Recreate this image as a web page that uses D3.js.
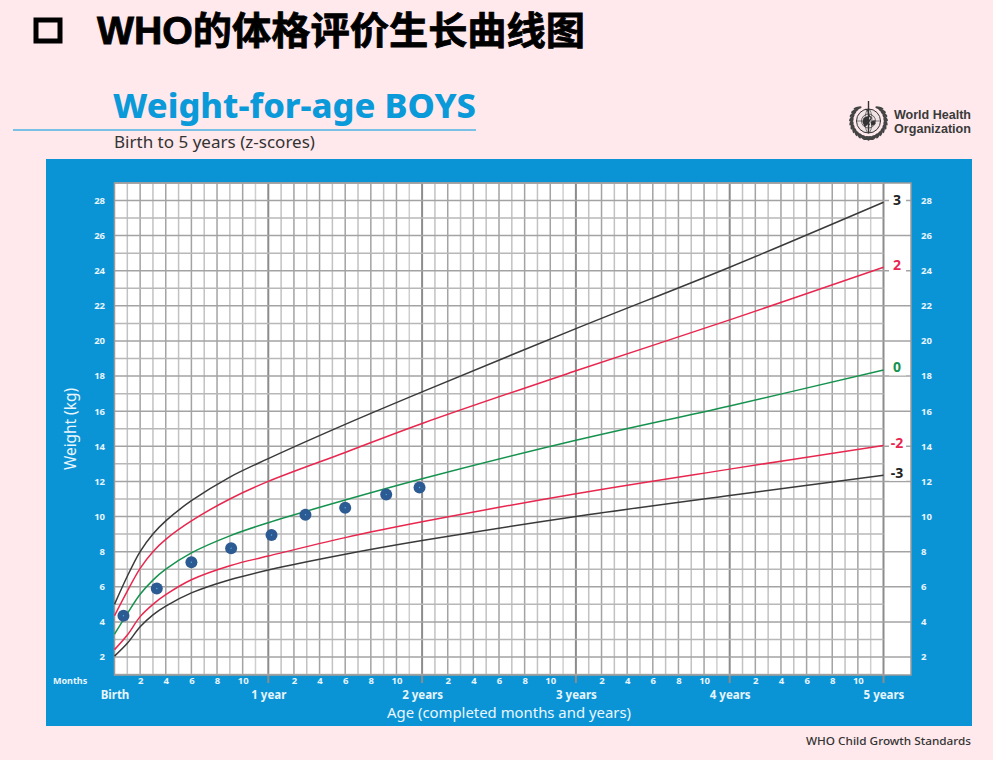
<!DOCTYPE html>
<html><head><meta charset="utf-8">
<script src="https://cdn.jsdelivr.net/npm/d3@7"></script>
<style>
html,body{margin:0;padding:0;background:#ffe9ec;}
svg{display:block;}
text{font-family:"Noto Sans","Open Sans",sans-serif;}
</style></head><body><svg id="c" width="993" height="760"></svg>
<script>
const months=[0,1,2,3,4,6,9,12,18,24,36,48,60];
const zNeg3=[2.05,2.78,3.72,4.4,4.9,5.65,6.4,6.95,7.85,8.63,10.0,11.2,12.35];
const zNeg2=[2.42,3.25,4.3,5.0,5.55,6.4,7.2,7.75,8.8,9.7,11.3,12.7,14.05];
const z0=[3.3,4.47,5.57,6.38,7.0,7.93,8.9,9.65,10.94,12.15,14.34,16.3,18.35];
const zPos2=[4.35,5.75,7.05,8.0,8.7,9.75,11.0,12.0,13.65,15.3,18.3,21.2,24.2];
const zPos3=[5.0,6.6,8.0,9.0,9.75,10.9,12.25,13.3,15.25,17.1,20.7,24.2,27.9];
const zLabels=["-3","-2","0","2","3"];
const zColors=["#3a3a3a","#e8274f","#16924f","#e8274f","#3a3a3a"];
const ptMonths=[0.7,3.3,6,9.1,12.25,14.9,18,21.2,23.8];
const ptWeights=[4.35,5.9,7.4,8.2,8.95,10.1,10.5,11.25,11.65];
const yTicks=[2,4,6,8,10,12,14,16,18,20,22,24,26,28];
const yearLabels=["Birth","1 year","2 years","3 years","4 years","5 years"];
const monthLabelVals=[2,4,6,8,10];

const svg=d3.select("#c");
const X0=114.5,X60=883.5,XR=911,Y2=657,Y28=200.5,YT=183,YB=675;
const x=d3.scaleLinear().domain([0,60]).range([X0,X60]);
const y=d3.scaleLinear().domain([2,28]).range([Y2,Y28]);

// Slide title
svg.append("rect").attr("x",36).attr("y",20).attr("width",24).attr("height",21).attr("fill","none").attr("stroke","#000").attr("stroke-width",5);
svg.append("text").attr("x",97).attr("y",44).attr("font-size",38).attr("font-weight",700).attr("fill","#000").attr("stroke","#000").attr("stroke-width",.8)
  .style("font-family",'"Liberation Sans","Noto Sans CJK SC",sans-serif').attr("textLength",488).attr("lengthAdjust","spacingAndGlyphs").text("WHO的体格评价生长曲线图");

// Header
svg.append("text").attr("x",113).attr("y",118).attr("font-size",34).attr("font-weight",800).attr("fill","#0a9ad9")
  .attr("textLength",363).attr("lengthAdjust","spacingAndGlyphs").text("Weight-for-age BOYS");
svg.append("line").attr("x1",13).attr("x2",476).attr("y1",130).attr("y2",130).attr("stroke","#4fb3e3").attr("stroke-width",1.6);
svg.append("text").attr("x",114).attr("y",148).attr("font-size",16).attr("fill","#333")
  .attr("textLength",201).attr("lengthAdjust","spacingAndGlyphs").text("Birth to 5 years (z-scores)");

// WHO logo
const logo=svg.append("g").attr("transform","translate(868.5,121)").attr("fill","none").attr("stroke","#333");
logo.append("circle").attr("r",12).attr("stroke-width",1).attr("fill","#efe3e5");
logo.append("circle").attr("r",7).attr("stroke-width",.7);
logo.append("ellipse").attr("rx",3.5).attr("ry",12).attr("stroke-width",.6);
logo.append("line").attr("x1",-12).attr("x2",12).attr("stroke-width",.6);
logo.append("path").attr("d","M-5,-3 L-1,-5 L1,-1 L-1,4 L-4,6 L-6,1Z M2,1 L6,-1 L7,3 L3,5Z").attr("fill","#333").attr("stroke","none");
logo.append("line").attr("y1",-20).attr("y2",12).attr("stroke-width",1.4);
logo.append("path").attr("d","M-3,-12 C3,-10 -3,-7 2,-4 C5,-2 -3,0 1,4").attr("stroke-width",1.3);
[-1,1].forEach(s=>d3.range(-50,100,13).forEach(a=>{
  const r=a*Math.PI/180;
  logo.append("ellipse").attr("rx",4.2).attr("ry",1.3).attr("fill","#444").attr("stroke","none")
    .attr("transform",`translate(${s*17*Math.cos(r)},${17*Math.sin(r)}) rotate(${s*(a+65)})`);
}));
const logoFont='"Liberation Sans Narrow","Liberation Sans",sans-serif';
svg.append("text").attr("x",894).attr("y",119).attr("font-size",12).attr("font-weight",700).attr("fill","#3a3a3a").style("font-family",logoFont)
  .attr("textLength",77).attr("lengthAdjust","spacingAndGlyphs").text("World Health");
svg.append("text").attr("x",894).attr("y",133).attr("font-size",12).attr("font-weight",700).attr("fill","#3a3a3a").style("font-family",logoFont)
  .attr("textLength",77).attr("lengthAdjust","spacingAndGlyphs").text("Organization");

// Blue panel
svg.append("rect").attr("x",46).attr("y",159).attr("width",926).attr("height",567).attr("fill","#0a94d6");
svg.append("rect").attr("x",X0).attr("y",YT).attr("width",XR-X0).attr("height",YB-YT).attr("fill","#fff");

// Grid
const vg=svg.append("g");
d3.range(1,61).forEach(m=>{
  const yr=m%12===0, even=m%2===0;
  vg.append("line").attr("x1",x(m)).attr("x2",x(m)).attr("y1",YT).attr("y2",yr?683:YB)
    .attr("stroke",yr?"#8c8c8c":even?"#a3a3a3":(m%12===11?"#cfcfcf":"#c2c2c2"))
    .attr("stroke-width",yr?2:1.5);
});
const hg=svg.append("g");
d3.range(1,30).forEach(k=>{
  const ev=k%2===0;
  hg.append("line").attr("x1",X0).attr("x2",ev?XR:X60).attr("y1",y(k)).attr("y2",y(k))
    .attr("stroke",ev?"#a3a3a3":"#b8b8b8").attr("stroke-width",1.5);
});
svg.append("rect").attr("x",X0).attr("y",YT).attr("width",XR-X0).attr("height",YB-YT).attr("fill","none").attr("stroke","#9a9a9a").attr("stroke-width",1.5);

// Curves
const line=d3.line().x(d=>x(d[0])).y(d=>y(d[1])).curve(d3.curveCatmullRom.alpha(0.5));
const allZ=[zNeg3,zNeg2,z0,zPos2,zPos3];
allZ.forEach((vals,i)=>{
  svg.append("path").datum(months.map((m,j)=>[m,vals[j]])).attr("d",line)
    .attr("fill","none").attr("stroke",zColors[i]).attr("stroke-width",1.5);
  const ly=y(vals[vals.length-1])-2.5;
  svg.append("rect").attr("x",889).attr("y",ly-8).attr("width",17).attr("height",16).attr("fill","#fff");
  svg.append("text").attr("x",897).attr("y",ly+5).attr("text-anchor","middle").attr("font-size",14).attr("font-weight",700)
    .attr("fill",i===0||i===4?"#222":zColors[i]).text(zLabels[i]);
});

// Points
svg.append("g").selectAll("circle").data(ptMonths).join("circle")
  .attr("cx",d=>x(d)).attr("cy",(d,i)=>y(ptWeights[i])).attr("r",6).attr("fill","#2c5a92");
svg.append("g").selectAll("circle").data(ptMonths).join("circle")
  .attr("cx",d=>x(d)).attr("cy",(d,i)=>y(ptWeights[i])).attr("r",.7).attr("fill","#4fb3e3");

// Axes labels via d3 axes
function styleAxis(g,size){
  g.select(".domain").remove();
  g.selectAll(".tick line").remove();
  g.selectAll("text").attr("fill","#e8f5fc").attr("font-size",size).attr("font-weight",700).style("font-family",'"Noto Sans",sans-serif');
}
svg.append("g").attr("transform","translate(105,0)").call(d3.axisLeft(y).tickValues(yTicks).tickSize(0).tickPadding(0)).call(styleAxis,9.5)
  .selectAll("text").attr("dy","0.3em");
svg.append("g").attr("transform","translate(921,0)").call(d3.axisRight(y).tickValues(yTicks).tickSize(0).tickPadding(0)).call(styleAxis,9.5)
  .selectAll("text").attr("dy","0.3em");
const monthTicks=d3.range(0,5).flatMap(yi=>monthLabelVals.map(m=>yi*12+m));
svg.append("g").attr("transform","translate(0,675)").call(d3.axisBottom(x).tickValues(monthTicks).tickFormat(d=>d%12).tickSize(0).tickPadding(0)).call(styleAxis,9.5)
  .selectAll("text").attr("dy","0").attr("y",9);
svg.append("g").attr("transform","translate(0,699)").call(d3.axisBottom(x).tickValues(d3.range(0,61,12)).tickFormat((d,i)=>yearLabels[i]).tickSize(0).tickPadding(0)).call(styleAxis,11.5)
  .selectAll("text").attr("dy","0").attr("y",0);
svg.append("text").attr("x",53).attr("y",684).attr("font-size",9).attr("font-weight",700).attr("fill","#e8f5fc").text("Months");
svg.append("text").attr("x",509).attr("y",718).attr("text-anchor","middle").attr("font-size",15).attr("fill","#eaf6fc").attr("textLength",244).attr("lengthAdjust","spacingAndGlyphs").text("Age (completed months and years)");
svg.append("text").attr("transform","translate(76,429) rotate(-90)").attr("text-anchor","middle").attr("font-size",16).attr("fill","#eaf6fc").attr("textLength",82).attr("lengthAdjust","spacingAndGlyphs").text("Weight (kg)");
svg.append("text").attr("x",806).attr("y",745).attr("font-size",11.5).attr("font-weight",500).attr("fill","#333").attr("textLength",165).attr("lengthAdjust","spacingAndGlyphs").text("WHO Child Growth Standards");
</script></body></html>
